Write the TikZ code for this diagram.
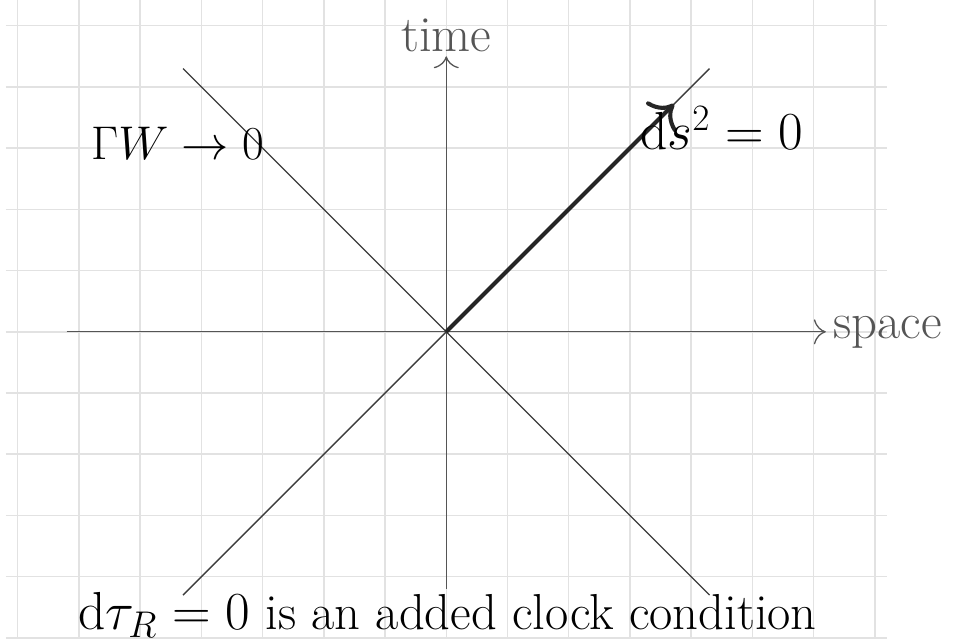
\documentclass[tikz,border=0pt]{standalone}
\usetikzlibrary{arrows.meta, positioning}
\definecolor{gridgray}{RGB}{226,226,226}
\definecolor{axisgray}{RGB}{85,85,85}
\definecolor{conegray}{RGB}{60,60,60}
\tikzset{
  gridline/.style  = {draw=gridgray, line width=0.7pt},
  axis/.style      = {-{To[scale=1.9]}, draw=axisgray, line width=0.6pt},
  cone/.style      = {draw=conegray, line width=0.6pt},
  worldline/.style = {-{To[scale=1.6]}, line width=1.9pt, draw=black!85},
  lbl/.style       = {font=\fontsize{23.5}{28}\selectfont},
  axislbl/.style   = {lbl, text=axisgray},
}
\begin{document}
\begin{tikzpicture}
  \useasboundingbox (-7.29,-5.08) rectangle (8.31,5.42);

  % grid
  \draw[gridline, step=1] (-7.2,-5) grid (7.2,5.42);

  % axes
  \coordinate (O) at (0,0);
  \coordinate (xl) at (-6.2,0);
  \coordinate (xr) at (6.2,0);
  \coordinate (tb) at (0,-4.2);
  \coordinate (tt) at (0,4.5);
  \draw[axis] (xl) -- (xr);
  \draw[axis] (tb) -- (tt);
  \node[axislbl, right] (space) at (xr) {space};
  \node[axislbl, above, inner sep=2pt] (time) at (tt) {time};

  % light cone
  \coordinate (ul) at (-4.3,4.3);
  \coordinate (ur) at (4.3,4.3);
  \coordinate (ll) at (-4.3,-4.3);
  \coordinate (lr) at (4.3,-4.3);
  \draw[cone] (ul) -- (lr);
  \draw[cone] (ll) -- (ur);

  % null worldline
  \coordinate (tip) at (3.72,3.72);
  \draw[worldline] (O) -- (tip);

  % labels
  \node[anchor=base, font=\fontsize{20.74}{25}\selectfont, scale=1.06] (gw) at (-4.39,2.81) {$\Gamma W \to 0$};
  \node[lbl, anchor=base] (ds) at (4.5,2.97) {$\mathrm{d}s^2 = 0$};
  \node[lbl, anchor=base] (clock) at (0.02,-4.86)
    {$\mathrm{d}\tau_R = 0$ is an added clock condition};

\end{tikzpicture}
\end{document}
